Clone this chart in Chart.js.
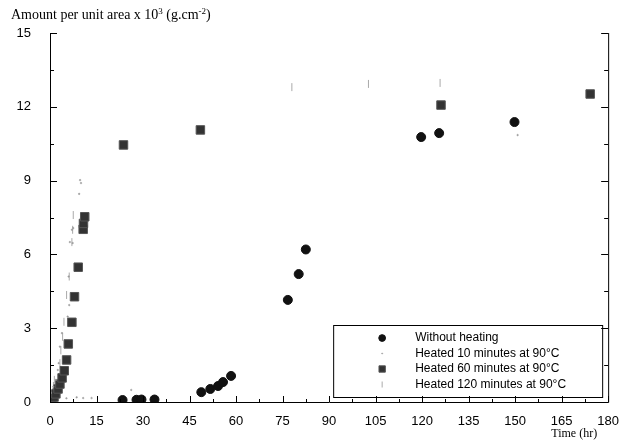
<!DOCTYPE html>
<html>
<head>
<meta charset="utf-8">
<script src="https://cdn.jsdelivr.net/npm/chart.js@4.4.1/dist/chart.umd.min.js"></script>
<style>
  html, body { margin: 0; padding: 0; background: #fff; }
</style>
</head>
<body>
<canvas id="amountChart" width="623" height="443"></canvas>
<script>
// axis ticks
const xTickValues = [0, 15, 30, 45, 60, 75, 90, 105, 120, 135, 150, 165, 180];
const yTickValues = [0, 3, 6, 9, 12, 15];

// Without heating (hr, amount)
const noHeatHr  = [23.4, 27.9, 29.5, 33.7, 48.8, 51.7, 54.2, 55.8, 58.4, 76.7, 80.2, 82.5, 119.7, 125.5, 149.8];
const noHeatAmt = [0.08, 0.09, 0.1, 0.1, 0.4, 0.53, 0.65, 0.81, 1.06, 4.15, 5.2, 6.2, 10.77, 10.93, 11.38];

// Heated 10 minutes at 90°C
const heat10Hr  = [0.3, 1.06, 1.9, 2.5, 2.8, 3.2, 3.85, 5.7, 6.2, 6.0, 6.4, 7.3, 7.06, 7.5, 9.4, 9.7, 10.0, 5.3, 8.6, 10.7, 13.4, 26.2, 120.5, 150.8];
const heat10Amt = [0.37, 0.62, 0.9, 1.3, 1.58, 2.25, 2.8, 3.47, 3.94, 5.1, 6.5, 6.46, 7.0, 7.07, 8.46, 9.02, 8.9, 0.15, 0.19, 0.16, 0.16, 0.49, 10.65, 10.85];

// Heated 60 minutes at 90°C
const heat60Hr  = [0.6, 1.3, 1.9, 2.6, 3.2, 3.9, 4.6, 5.35, 5.9, 7.06, 7.9, 9.1, 10.7, 10.8, 11.2, 23.7, 48.5, 126.1, 174.2];
const heat60Amt = [0.08, 0.2, 0.33, 0.53, 0.73, 0.98, 1.27, 1.71, 2.36, 3.24, 4.28, 5.48, 7.02, 7.26, 7.53, 10.45, 11.06, 12.07, 12.52];

// Heated 120 minutes at 90°C
const heat120Hr  = [0.5, 0.8, 1.1, 1.4, 3.2, 3.5, 4.07, 4.5, 5.35, 6.2, 7.06, 7.3, 7.5, 78, 102.7, 125.8];
const heat120Amt = [0.15, 0.4, 0.65, 0.9, 1.58, 2.1, 2.65, 3.26, 4.35, 5.1, 6.5, 7.0, 7.6, 12.8, 12.93, 12.97];

const legendLabels = ['Without heating', 'Heated 10 minutes at 90°C', 'Heated 60 minutes at 90°C', 'Heated 120 minutes at 90°C'];

const toPoints = (xs, ys) => xs.map((x, i) => ({ x: x, y: ys[i] }));

// inward ticks, axis lines, legend box and axis titles
const framePlugin = {
    id: 'frame',
    afterDraw(chart) {
        const ctx = chart.ctx;
        const { left, right, top, bottom } = chart.chartArea;
        const xs = chart.scales.x, ys = chart.scales.y;
        ctx.save();
        ctx.strokeStyle = '#000';
        ctx.lineWidth = 1;
        ctx.beginPath();
        ctx.moveTo(left + 0.5, top);
        ctx.lineTo(left + 0.5, bottom + 0.5);
        ctx.lineTo(right + 0.5, bottom + 0.5);
        ctx.lineTo(right + 0.5, top);
        for (let v = 0; v <= 180; v += 7.5) {
            const px = Math.round(xs.getPixelForValue(v)) + 0.5;
            const len = v % 15 === 0 ? 6 : 3;
            ctx.moveTo(px, bottom);
            ctx.lineTo(px, bottom - len);
        }
        for (let v = 0; v <= 15; v += 1.5) {
            const py = Math.round(ys.getPixelForValue(v)) + 0.5;
            const len = v % 3 === 0 ? 7 : 4;
            ctx.moveTo(left, py);
            ctx.lineTo(left + len, py);
            ctx.moveTo(right, py);
            ctx.lineTo(right - len, py);
        }
        ctx.stroke();

        // legend
        const bx = right - 275, by = bottom - 77, bw = 269, bh = 72;
        ctx.strokeRect(bx + 0.5, by + 0.5, bw, bh);
        ctx.font = "12px 'Liberation Sans', Arial, sans-serif";
        ctx.textBaseline = 'middle';
        ctx.textAlign = 'left';
        chart.data.datasets.forEach((ds, i) => {
            const ly = by + 13 + i * 15.5;
            ctx.fillStyle = ds.backgroundColor;
            ctx.strokeStyle = ds.borderColor;
            ctx.lineWidth = ds.borderWidth;
            Chart.helpers.drawPoint(ctx, {
                pointStyle: ds.pointStyle,
                radius: ds.pointRadius * 0.75,
                rotation: ds.rotation || 0,
                borderWidth: ds.borderWidth
            }, bx + 49, ly);
            ctx.fillStyle = '#000';
            ctx.fillText(legendLabels[i], bx + 82, ly);
        });

        // y axis title with superscripts
        ctx.fillStyle = '#000';
        ctx.textBaseline = 'alphabetic';
        const big = "14px 'Liberation Serif', 'Times New Roman', serif";
        const small = "9px 'Liberation Serif', 'Times New Roman', serif";
        const parts = [
            ['Amount per unit area x 10', big, 0],
            ['3', small, -5],
            [' (g.cm', big, 0],
            ['-2', small, -5],
            [')', big, 0]
        ];
        let tx = 11;
        parts.forEach(([t, f, dy]) => {
            ctx.font = f;
            ctx.fillText(t, tx, 19 + dy);
            tx += ctx.measureText(t).width;
        });

        // x axis title
        ctx.font = "12px 'Liberation Serif', 'Times New Roman', serif";
        ctx.textAlign = 'right';
        ctx.fillText('Time (hr)', right - 11, 437);
        ctx.restore();
    }
};

new Chart(document.getElementById('amountChart').getContext('2d'), {
    type: 'scatter',
    data: {
        datasets: [
            {
                label: legendLabels[0],
                data: toPoints(noHeatHr, noHeatAmt),
                pointStyle: 'circle',
                pointRadius: 4.5,
                backgroundColor: '#111',
                borderColor: '#111',
                borderWidth: 1
            },
            {
                label: legendLabels[1],
                data: toPoints(heat10Hr, heat10Amt),
                pointStyle: 'circle',
                pointRadius: 0.8,
                backgroundColor: '#9a9a9a',
                borderColor: '#9a9a9a',
                borderWidth: 0.5
            },
            {
                label: legendLabels[2],
                data: toPoints(heat60Hr, heat60Amt),
                pointStyle: 'rect',
                pointRadius: 6,
                backgroundColor: '#333',
                borderColor: '#555',
                borderWidth: 1
            },
            {
                label: legendLabels[3],
                data: toPoints(heat120Hr, heat120Amt),
                pointStyle: 'line',
                rotation: 90,
                pointRadius: 4,
                backgroundColor: '#aaa',
                borderColor: '#aaa',
                borderWidth: 1
            }
        ]
    },
    options: {
        responsive: false,
        animation: false,
        layout: { padding: { top: 33, right: 12, left: 0, bottom: 0 } },
        plugins: {
            legend: { display: false },
            tooltip: { enabled: false }
        },
        elements: { point: { hoverRadius: 0 } },
        scales: {
            x: {
                type: 'linear',
                min: 0,
                max: 180,
                afterBuildTicks: (scale) => { scale.ticks = xTickValues.map(v => ({ value: v })); },
                afterFit: (scale) => { scale.height = 41; },
                grid: { display: false },
                border: { display: false },
                ticks: {
                    color: '#000',
                    padding: 4,
                    maxRotation: 0,
                    font: { family: "'Liberation Sans', Arial, sans-serif", size: 13 }
                }
            },
            y: {
                type: 'linear',
                min: 0,
                max: 15,
                afterBuildTicks: (scale) => { scale.ticks = yTickValues.map(v => ({ value: v })); },
                afterFit: (scale) => { scale.width = 50; },
                grid: { display: false },
                border: { display: false },
                ticks: {
                    color: '#000',
                    padding: 11,
                    font: { family: "'Liberation Sans', Arial, sans-serif", size: 13 }
                }
            }
        }
    },
    plugins: [framePlugin]
});
</script>
</body>
</html>
